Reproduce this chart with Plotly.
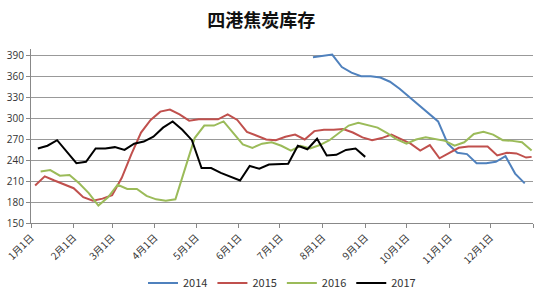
import pandas as pd
import plotly.graph_objects as go

# ---- data (dummy year 2001 used for month/day axis) ----
dates_2014 = pd.date_range("2001-07-25", periods=23, freq="7D")
vals_2014 = [388, 390, 392, 374, 366, 361, 361, 359, 353, 343, 331, 320, 307, 296,
             264, 251, 249, 236, 236, 238, 246, 221, 207]

dates_2015 = list(pd.date_range("2001-01-04", periods=52, freq="7D")) + [pd.Timestamp("2001-12-31")]
vals_2015 = [204, 217, 211, 206, 200, 187, 182, 185, 190, 215,
             249, 280, 298, 310, 313, 306, 297, 299, 299, 299,
             306, 298, 281, 276, 270, 269, 274, 277, 270, 282,
             284, 284, 285, 280, 273, 269, 272, 277, 271, 264,
             254, 262, 243, 251, 258, 260, 260, 260, 247, 251,
             250, 244, 245]

dates_2016 = pd.date_range("2001-01-08", periods=52, freq="7D")
vals_2016 = [224, 226, 218, 219, 207, 193, 175, 187, 205, 199,
             199, 189, 184, 182, 184, 227, 272, 290, 290, 296,
             279, 263, 258, 264, 266, 261, 254, 261, 257, 262,
             269, 280, 290, 294, 290, 287, 279, 270, 264, 270,
             273, 271, 268, 261, 266, 278, 281, 277, 269, 268,
             266, 254]

dates_2017 = ["2001-01-06", "2001-01-13", "2001-01-20", "2001-02-03", "2001-02-10",
              "2001-02-17", "2001-02-24", "2001-03-03", "2001-03-10", "2001-03-17",
              "2001-03-24", "2001-03-31", "2001-04-07", "2001-04-14", "2001-04-21",
              "2001-04-28", "2001-05-05", "2001-05-12", "2001-05-19", "2001-05-26",
              "2001-06-02", "2001-06-09", "2001-06-16", "2001-06-23", "2001-06-30",
              "2001-07-07", "2001-07-14", "2001-07-21", "2001-07-28", "2001-08-04",
              "2001-08-11", "2001-08-18", "2001-08-25", "2001-09-01"]
vals_2017 = [257, 261, 269, 236, 238, 257, 257, 259, 255, 264,
             267, 274, 287, 296, 284, 269, 229, 229, 222, 216,
             211, 232, 228, 234, 234, 235, 261, 256, 271, 247,
             248, 255, 257, 245]

tick_dates = ["2001-01-01", "2001-02-01", "2001-03-01", "2001-04-01", "2001-05-01",
              "2001-06-01", "2001-07-01", "2001-08-01", "2001-09-01", "2001-10-01",
              "2001-11-01", "2001-12-01", "2002-01-01"]
tick_text = ["1月1日", "2月1日", "3月1日", "4月1日", "5月1日", "6月1日", "7月1日",
             "8月1日", "9月1日", "10月1日", "11月1日", "12月1日", ""]

series = [
    ("2014", dates_2014, vals_2014, "#4F81BD"),
    ("2015", dates_2015, vals_2015, "#C0504D"),
    ("2016", dates_2016, vals_2016, "#9BBB59"),
    ("2017", dates_2017, vals_2017, "#000000"),
]

fig = go.Figure()
for name, x, y, c in series:
    fig.add_trace(go.Scatter(x=x, y=y, name=name, mode="lines",
                             line=dict(color=c, width=2)))

fig.update_layout(
    width=550, height=300,
    margin=dict(l=31, r=17, t=49, b=77, autoexpand=False),
    paper_bgcolor="white", plot_bgcolor="white",
    title=dict(text="<b>四港焦炭库存</b>", x=0.475, xanchor="center",
               y=0.93, yanchor="middle",
               font=dict(family="Noto Sans CJK SC", size=18, color="#111")),
    legend=dict(orientation="h", x=0.5, xanchor="center",
                yref="container", y=0.057, yanchor="middle",
                font=dict(family="Noto Sans CJK SC, Open Sans", size=11, color="#333"),
                itemwidth=30, tracegroupgap=0),
    font=dict(family="Noto Sans CJK SC", color="#333"),
)
fig.update_xaxes(
    type="date", range=["2001-01-01", "2002-01-01"],
    tickmode="array", tickvals=tick_dates, ticktext=tick_text,
    tickangle=-45, tickfont=dict(size=10, color="#333"), automargin=False,
    showgrid=False, showline=True, linecolor="#888", linewidth=1,
    ticks="outside", ticklen=4, tickcolor="#888", zeroline=False,
)
fig.update_yaxes(
    range=[150, 400], tick0=150, dtick=30, automargin=False,
    tickfont=dict(size=10, color="#333", family="Open Sans"),
    showgrid=True, gridcolor="#999999", gridwidth=1,
    showline=True, linecolor="#888", linewidth=1,
    ticks="outside", ticklen=4, tickcolor="#888", zeroline=False,
)

fig.write_html("out.html")
